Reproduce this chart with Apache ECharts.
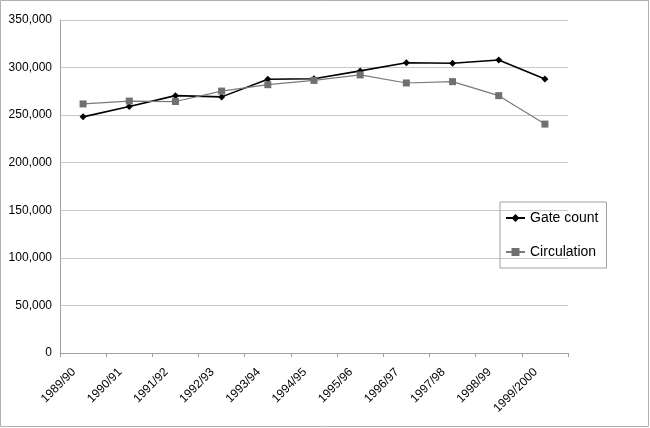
<!DOCTYPE html>
<html><head><meta charset="utf-8">
<script src="https://cdn.jsdelivr.net/npm/echarts@6/dist/echarts.min.js"></script>
<style>html,body{margin:0;padding:0;background:#fff}#c{width:650px;height:428px;box-sizing:border-box}</style>
</head><body><div id="c"></div>
<script>
var categories = ['1989/90','1990/91','1991/92','1992/93','1993/94','1994/95','1995/96','1996/97','1997/98','1998/99','1999/2000'];
var gateCount = [248200, 259000, 270500, 269200, 287700, 288300, 296500, 305000, 304500, 308000, 288000];
var circulation = [261800, 264800, 264300, 275300, 282000, 286500, 292300, 283800, 285200, 270500, 240600];
var yTicks = {min: 0, max: 350000, interval: 50000};

var chart = echarts.init(document.getElementById('c'));
chart.setOption({
  animation: false,
  backgroundColor: '#fff',
  graphic: [{type:'rect', shape:{x:0.5,y:0.5,width:648,height:426}, style:{fill:'none', stroke:'#b0b0b0', lineWidth:1}, silent:true}],
  grid: {left: 60, right: 82, top: 20, bottom: 75},
  legend: {
    orient: 'vertical', left: 500, top: 202,
    padding: [9, 8, 9, 5], itemGap: 20, itemWidth: 19, itemHeight: 10,
    borderColor: '#a0a0a0', borderWidth: 1,
    textStyle: {fontFamily: 'Liberation Sans, Arial, sans-serif', fontSize: 14, color: '#000'},
    data: ['Gate count', 'Circulation']
  },
  xAxis: {
    type: 'category', data: categories, boundaryGap: true,
    axisLine: {lineStyle: {color: '#a0a0a0'}},
    axisTick: {show: true, lineStyle: {color: '#a0a0a0'}, length: 4},
    axisLabel: {rotate: 45, interval: 0, margin: 8, padding: [0, 13, 0, 0], fontFamily: 'Liberation Sans, Arial, sans-serif', fontSize: 12, color: '#000'}
  },
  yAxis: {
    type: 'value', min: yTicks.min, max: yTicks.max, interval: yTicks.interval,
    axisLine: {show: true, lineStyle: {color: '#a0a0a0'}},
    axisTick: {show: false},
    splitLine: {lineStyle: {color: '#c8c8c8'}},
    axisLabel: {margin: 8, fontFamily: 'Liberation Sans, Arial, sans-serif', fontSize: 12, color: '#000',
      formatter: function(v){ return v.toLocaleString('en-US'); }}
  },
  series: [
    {name: 'Gate count', type: 'line', data: gateCount, symbol: 'diamond', symbolSize: 7,
     lineStyle: {color: '#000', width: 1.6}, itemStyle: {color: '#000'}},
    {name: 'Circulation', type: 'line', data: circulation, symbol: 'rect', symbolSize: 7,
     lineStyle: {color: '#7a7a7a', width: 1.2}, itemStyle: {color: '#707070'}}
  ]
});
</script></body></html>
